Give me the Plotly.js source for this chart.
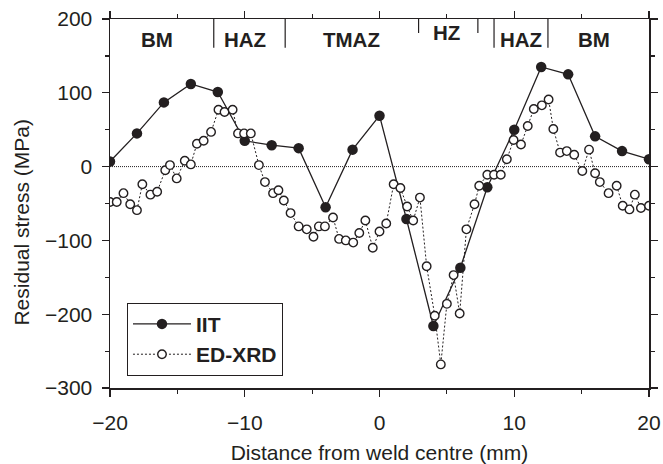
<!DOCTYPE html>
<html>
<head>
<meta charset="utf-8">
<script src="https://cdn.plot.ly/plotly-3.0.1.min.js"></script>
<style>html,body{margin:0;padding:0;background:#fff;}#chart{width:663px;height:464px;}</style>
</head>
<body>
<div id="chart"></div>
<script>
// IIT measurements
var iitX = [-20,-18,-16,-14,-12,-10,-8,-6,-4,-2,0,2,4,6,8,10,12,14,16,18,20];
var iitY = [7,45,87,112,101,35,29,25,-55,23,69,-71,-216,-137,-28,50,135,125,41,21,10];

// ED-XRD measurements
var xrdX = [-20,-19.5,-19,-18.5,-18,-17.6,-17,-16.5,-15.9,-15.55,-15.05,-14.45,-14,-13.55,-13.05,-12.5,-11.95,-11.5,-10.9,-10.5,-10.05,-9.55,-8.95,-8.5,-7.9,-7.5,-7.1,-6.6,-6,-5.4,-4.9,-4.5,-4.05,-3.45,-3,-2.5,-1.95,-1.5,-1.05,-0.5,0,0.5,1.05,1.55,2.05,2.5,3,3.5,4.1,4.55,5,5.5,5.95,6.45,7.05,7.4,8,8.5,9,9.45,9.95,10.5,11,11.45,12.05,12.55,12.9,13.4,13.9,14.45,15.05,15.55,16,16.35,17,17.6,18.05,18.55,18.95,19.4,20];
var xrdY = [-48,-48,-36,-51,-59,-24,-38,-34,-5,2,-16,8,3,31,35,47,77,74,77,45,45,45,2,-21,-36,-32,-46,-63,-81,-85,-95,-81,-81,-69,-98,-100,-103,-90,-73,-110,-88,-77,-24,-29,-54,-73,-42,-135,-202,-268,-186,-147,-199,-85,-51,-26,-11,-11,-11,10,36,30,55,78,83,91,51,19,21,16,-6,23,-9,-21,-36,-26,-53,-58,-38,-56,-53];

// Weld zones
var zoneBounds = [-12.3, -7, 2.9, 7.3, 8.5, 12.5];
var zoneBoundTop = [161, 161, 181, 181, 161, 161];
var zoneNames = ['BM','HAZ','TMAZ','HZ','HAZ','BM'];
var zoneNameX = [-16.5, -10, -2.1, 5, 10.5, 15.9];
var zoneNameY = [172, 172, 172, 182, 172, 172];

var xTicks = [-20,-10,0,10,20];
var yTicks = [-300,-200,-100,0,100,200];

var ink = '#231f20';
var regFont = 'Liberation Sans, Arial, sans-serif';

var traces = [
  {x: iitX, y: iitY, name: 'IIT', type: 'scatter', mode: 'lines+markers',
   line: {color: ink, width: 1.3},
   marker: {symbol: 'circle', size: 10.5, color: ink}},
  {x: xrdX, y: xrdY, name: 'ED-XRD', type: 'scatter', mode: 'lines+markers',
   line: {color: ink, width: 1, dash: '2px,2px'},
   marker: {symbol: 'circle', size: 8.5, color: '#fff', line: {color: ink, width: 1.4}}}
];

var shapes = [
  {type: 'line', xref: 'paper', yref: 'y', x0: 0, x1: 1, y0: 0, y1: 0,
   line: {color: ink, width: 1, dash: '1px,1px'}, layer: 'below'}
];
zoneBounds.forEach(function (b, i) {
  shapes.push({type: 'line', xref: 'x', yref: 'y', x0: b, x1: b, y0: zoneBoundTop[i], y1: 200,
    line: {color: ink, width: 1.2}});
});

var annotations = zoneNames.map(function (n, i) {
  return {x: zoneNameX[i], y: zoneNameY[i], xref: 'x', yref: 'y', text: '<b>' + n + '</b>',
    showarrow: false, font: {family: regFont, size: 20.5, color: ink}};
});
// y-axis title (placed as in the reference, slightly below the plot centre)
annotations.push({x: -0.164, y: 0.45, xref: 'paper', yref: 'paper', text: 'Residual stress (MPa)',
  textangle: -90, showarrow: false, xanchor: 'center', yanchor: 'middle',
  font: {family: regFont, size: 21, color: ink}});

var layout = {
  width: 663, height: 464,
  margin: {l: 110, r: 14, t: 19, b: 76},
  paper_bgcolor: '#fff', plot_bgcolor: '#fff',
  font: {family: regFont, size: 21, color: ink},
  showlegend: true,
  legend: {x: 0.0315, y: 0.231, xanchor: 'left', yanchor: 'top',
    bordercolor: ink, borderwidth: 1, bgcolor: '#fff',
    font: {family: regFont, size: 21, color: ink, weight: 'bold'}, itemwidth: 58},
  xaxis: {range: [-20, 20], tickvals: xTicks, ticks: 'outside', ticklen: 7, tickwidth: 1.2,
    tickcolor: ink, showline: true, linecolor: ink, linewidth: 1.5, mirror: 'ticks',
    showgrid: false, zeroline: false, ticklabelstandoff: 8,
    minor: {dtick: 5, ticks: 'outside', ticklen: 4, tickcolor: ink, showgrid: false},
    title: {text: 'Distance from weld centre (mm)', standoff: 13, font: {size: 21}}},
  yaxis: {range: [-300, 200], tickvals: yTicks, ticks: 'outside', ticklen: 7, tickwidth: 1.2,
    tickcolor: ink, showline: true, linecolor: ink, linewidth: 1.5, mirror: 'ticks',
    showgrid: false, zeroline: false, ticklabelstandoff: 5,
    minor: {dtick: 50, ticks: 'outside', ticklen: 4, tickcolor: ink, showgrid: false}},
  shapes: shapes,
  annotations: annotations
};

Plotly.newPlot('chart', traces, layout, {displayModeBar: false, staticPlot: true});
</script>
</body>
</html>
